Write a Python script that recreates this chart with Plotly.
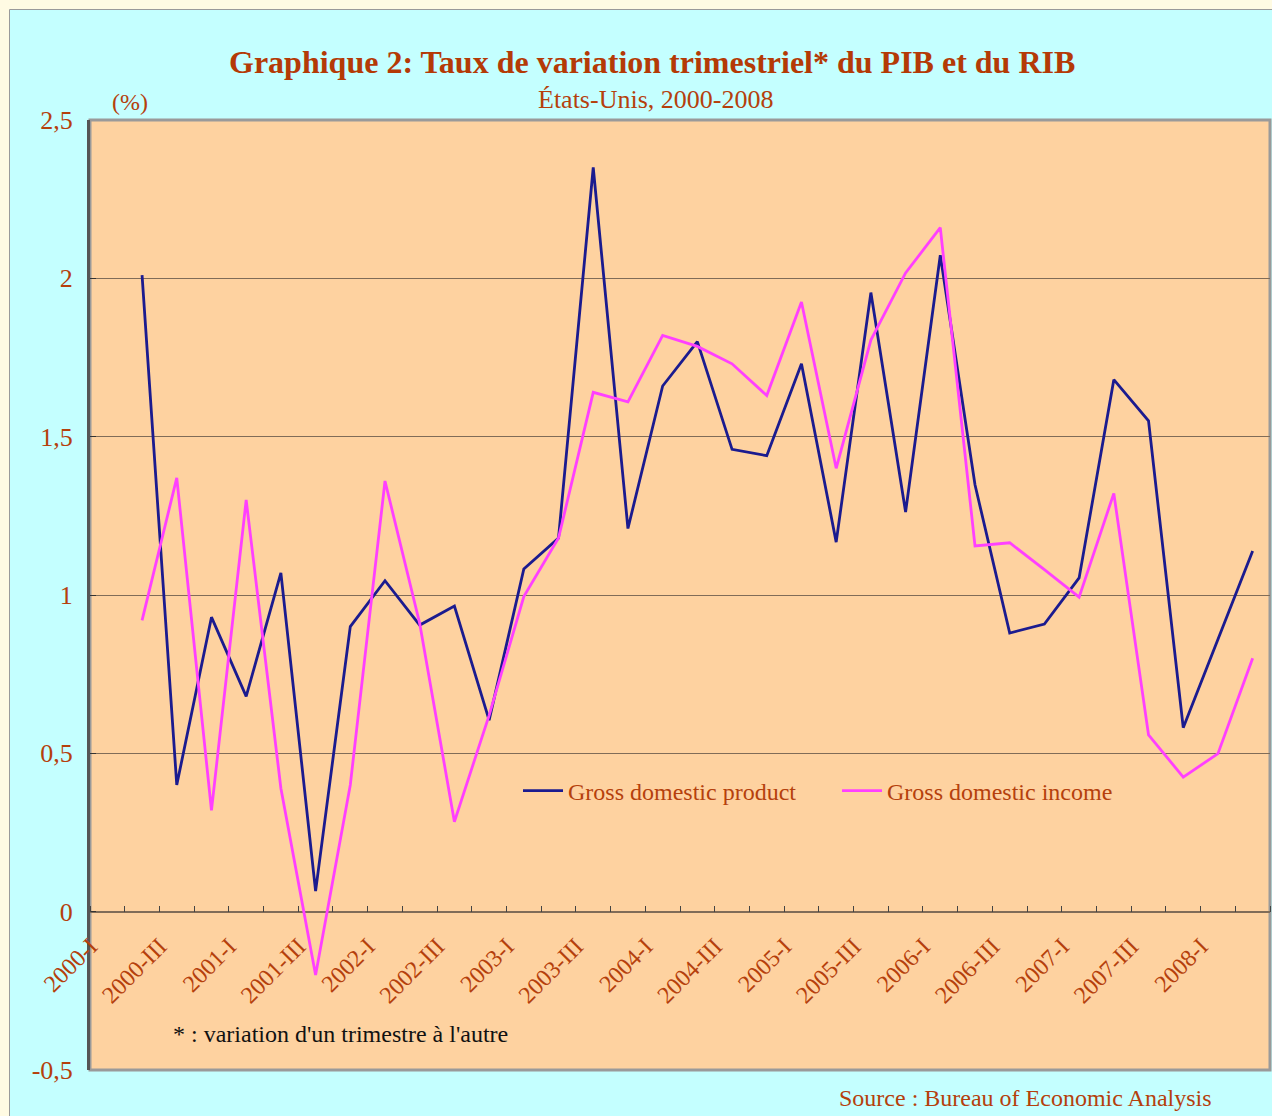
import plotly.graph_objects as go

quarters = ["2000-I", "2000-II", "2000-III", "2000-IV",
            "2001-I", "2001-II", "2001-III", "2001-IV",
            "2002-I", "2002-II", "2002-III", "2002-IV",
            "2003-I", "2003-II", "2003-III", "2003-IV",
            "2004-I", "2004-II", "2004-III", "2004-IV",
            "2005-I", "2005-II", "2005-III", "2005-IV",
            "2006-I", "2006-II", "2006-III", "2006-IV",
            "2007-I", "2007-II", "2007-III", "2007-IV",
            "2008-I", "2008-II"]

gdp = [None, 2.01, 0.40, 0.93, 0.68, 1.07, 0.065, 0.90, 1.045, 0.905, 0.965,
       0.605, 1.082, 1.18, 2.35, 1.21, 1.66, 1.80, 1.46, 1.44, 1.73,
       1.167, 1.955, 1.262, 2.073, 1.348, 0.88, 0.908, 1.054, 1.68, 1.55,
       0.581, 0.86, 1.139]

gdi = [None, 0.92, 1.37, 0.32, 1.30, 0.39, -0.20, 0.40, 1.36, 0.91, 0.284,
       0.62, 0.995, 1.18, 1.64, 1.61, 1.82, 1.785, 1.73, 1.63, 1.925,
       1.40, 1.805, 2.017, 2.16, 1.155, 1.165, 1.08, 0.993, 1.321, 0.558,
       0.425, 0.499, 0.80]

tick_labels = ["2000-I", "2000-III", "2001-I", "2001-III", "2002-I", "2002-III",
               "2003-I", "2003-III", "2004-I", "2004-III", "2005-I", "2005-III",
               "2006-I", "2006-III", "2007-I", "2007-III", "2008-I"]

y_ticks = [-0.5, 0, 0.5, 1, 1.5, 2, 2.5]
y_tick_text = ["-0,5", "0", "0,5", "1", "1,5", "2", "2,5"]

series_names = ["Gross domestic product", "Gross domestic income"]
series_colors = ["#1b1b8f", "#ff40ff"]

RUST = "#b5400c"
FONT = "Liberation Serif"

W, H = 1272, 1116
ML, MR, MT, MB = 90, 2, 120, 46
PW, PH = W - ML - MR, H - MT - MB


def px(x):
    return (x - ML) / PW


def py(y):
    return (H - MB - y) / PH


fig = go.Figure()
fig.add_trace(go.Scatter(x=quarters, y=gdp, name=series_names[0], mode="lines",
                         line=dict(color=series_colors[0], width=2.8), legend="legend"))
fig.add_trace(go.Scatter(x=quarters, y=gdi, name=series_names[1], mode="lines",
                         line=dict(color=series_colors[1], width=2.8), legend="legend2"))
# helper (invisible) trace for the tick-mark axis crossing at zero
fig.add_trace(go.Scatter(x=quarters, y=gdp, xaxis="x2", mode="lines",
                         opacity=0, showlegend=False, hoverinfo="skip",
                         line=dict(width=0)))

zero_pos = (0 - (-0.5)) / 3.0

legend_common = dict(orientation="h", xanchor="left", yanchor="middle",
                     bgcolor="rgba(0,0,0,0)", font=dict(size=24, color=RUST, family=FONT),
                     itemwidth=40)

fig.update_layout(
    width=W, height=H,
    margin=dict(l=ML, r=MR, t=MT, b=MB),
    paper_bgcolor="#c4ffff",
    plot_bgcolor="#fed2a0",
    font=dict(family=FONT, color=RUST),
    showlegend=True,
    legend=dict(x=px(518), y=py(791), **legend_common),
    legend2=dict(x=px(837), y=py(791), **legend_common),
    xaxis=dict(type="category", categoryarray=quarters, categoryorder="array",
               range=[-0.5, 33.5], anchor="free", position=zero_pos,
               tickmode="array", tickvals=tick_labels, ticktext=tick_labels,
               tickangle=-45, ticks="", showline=False, showgrid=False, zeroline=False,
               tickfont=dict(size=24, color=RUST, family=FONT),
               ticklabelstandoff=15, ticklabelshift=-17),
    xaxis2=dict(type="category", categoryarray=quarters, categoryorder="array",
                range=[-0.5, 33.5], overlaying="x", anchor="free", position=zero_pos,
                side="top", ticks="outside", ticklen=6, tickwidth=1, tickcolor="#444444",
                tickson="boundaries", showticklabels=False, showgrid=False,
                showline=False, zeroline=False),
    yaxis=dict(range=[-0.5, 2.5], tickmode="array", tickvals=y_ticks, ticktext=y_tick_text,
               showgrid=True, gridcolor="#806c58", gridwidth=1.3,
               zeroline=True, zerolinecolor="#806c58", zerolinewidth=1.8,
               showline=True, linecolor="#555555", linewidth=3,
               ticks="inside", ticklen=6, tickcolor="#333333",
               tickfont=dict(size=26, color=RUST, family=FONT),
               ticklabelstandoff=9),
)

shapes = [
    # plot frame
    dict(type="rect", xref="paper", yref="paper", x0=0, x1=1, y0=0, y1=1,
         line=dict(color="#9a9a9a", width=3), layer="below"),
    # cream page margins
    dict(type="rect", xref="paper", yref="paper", x0=px(0), x1=px(9.5), y0=py(0), y1=py(H),
         fillcolor="#fffbe3", line=dict(width=0), layer="below"),
    dict(type="rect", xref="paper", yref="paper", x0=px(0), x1=px(W), y0=py(0), y1=py(9.5),
         fillcolor="#fffbe3", line=dict(width=0), layer="below"),
    dict(type="line", xref="paper", yref="paper", x0=px(9.5), x1=px(9.5), y0=py(9.5), y1=py(H),
         line=dict(color="#9a9a9a", width=1), layer="below"),
    dict(type="line", xref="paper", yref="paper", x0=px(9.5), x1=px(W), y0=py(9.5), y1=py(9.5),
         line=dict(color="#9a9a9a", width=1), layer="below"),
]
fig.update_layout(shapes=shapes)

annotations = [
    dict(text="<b>Graphique 2: Taux de variation trimestriel* du PIB et du RIB</b>",
         x=px(652), y=py(62), xanchor="center", yanchor="middle",
         font=dict(size=32, color="#b43a06", family=FONT)),
    dict(text="États-Unis, 2000-2008", x=px(655), y=py(100), xanchor="center", yanchor="middle",
         font=dict(size=26, color=RUST, family=FONT)),
    dict(text="(%)", x=px(130), y=py(102), xanchor="center", yanchor="middle",
         font=dict(size=24, color=RUST, family=FONT)),
    dict(text="* : variation d'un trimestre à l'autre", x=px(171), y=py(1034),
         xanchor="left", yanchor="middle",
         font=dict(size=24, color="#111111", family=FONT)),
    dict(text="Source : Bureau of Economic Analysis", x=px(1214), y=py(1098),
         xanchor="right", yanchor="middle",
         font=dict(size=24, color=RUST, family=FONT)),
]
for a in annotations:
    a.update(xref="paper", yref="paper", showarrow=False)
fig.update_layout(annotations=annotations)

fig.write_html("out.html", config={"displayModeBar": False},
               post_script="document.body.style.margin='0px';")
